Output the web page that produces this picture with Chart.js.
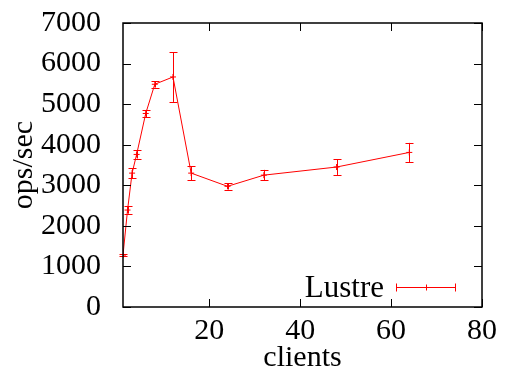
<!DOCTYPE html>
<html><head><meta charset="utf-8">
<script src="https://cdn.jsdelivr.net/npm/chart.js@4/dist/chart.umd.min.js"></script>
<style>html,body{margin:0;padding:0;background:#fff}#wrap{width:507px;height:376px}</style>
</head><body><div id="wrap"><canvas id="c" width="507" height="376"></canvas></div>
<script>
const clients = [1, 2, 3, 4, 6, 8, 12, 16, 24, 32, 48, 64];
const opsPerSec = [1280, 2390, 3300, 3760, 4770, 5490, 5670, 3300, 2975, 3250, 3450, 3810];
const opsError = [20, 90, 120, 100, 90, 80, 615, 175, 80, 130, 195, 235];
const xTicks = [20, 40, 60, 80];
const seriesName = 'Lustre';

const FONT = '"Liberation Serif", "Times New Roman", serif';
const RED = '#ff0000';

const framePlugin = {
  id: 'frame',
  afterDatasetsDraw(chart) {
    const ctx = chart.ctx, a = chart.chartArea;
    const xs = chart.scales.x, ys = chart.scales.y;
    ctx.save();
    // error bars
    ctx.strokeStyle = RED; ctx.lineWidth = 1;
    clients.forEach((c, i) => {
      const px = Math.round(xs.getPixelForValue(c)) + 0.5;
      const top = ys.getPixelForValue(opsPerSec[i] + opsError[i]);
      const bot = ys.getPixelForValue(opsPerSec[i] - opsError[i]);
      ctx.beginPath();
      ctx.moveTo(px, top); ctx.lineTo(px, bot);
      ctx.moveTo(px - 4, Math.round(top) + 0.5); ctx.lineTo(px + 4, Math.round(top) + 0.5);
      ctx.moveTo(px - 4, Math.round(bot) + 0.5); ctx.lineTo(px + 4, Math.round(bot) + 0.5);
      ctx.stroke();
    });
    // frame
    ctx.strokeStyle = '#000'; ctx.lineWidth = 1.5;
    ctx.strokeRect(a.left, a.top, a.right - a.left, a.bottom - a.top);
    // inward ticks
    ctx.lineWidth = 1;
    const tl = 8;
    ys.ticks.forEach(t => {
      const py = Math.round(ys.getPixelForValue(t.value)) + 0.5;
      ctx.beginPath();
      ctx.moveTo(a.left, py); ctx.lineTo(a.left + tl, py);
      ctx.moveTo(a.right, py); ctx.lineTo(a.right - tl, py);
      ctx.stroke();
    });
    xs.ticks.forEach(t => {
      const px = Math.round(xs.getPixelForValue(t.value)) + 0.5;
      ctx.beginPath();
      ctx.moveTo(px, a.bottom); ctx.lineTo(px, a.bottom - tl);
      ctx.moveTo(px, a.top); ctx.lineTo(px, a.top + tl);
      ctx.stroke();
    });
    // legend (key) inside bottom right
    const ly = a.bottom - 19.5;
    const lx1 = a.left + 273, lx2 = a.left + 333;
    ctx.fillStyle = '#000';
    ctx.font = '31px ' + FONT;
    ctx.textAlign = 'right'; ctx.textBaseline = 'middle';
    ctx.fillText(seriesName, lx1 - 12, ly + 1);
    ctx.strokeStyle = RED;
    ctx.beginPath();
    ctx.moveTo(lx1, ly); ctx.lineTo(lx2, ly);
    ctx.moveTo(lx1 + 0.5, ly - 4); ctx.lineTo(lx1 + 0.5, ly + 4);
    ctx.moveTo(lx2 - 0.5, ly - 4); ctx.lineTo(lx2 - 0.5, ly + 4);
    const mx = Math.round((lx1 + lx2) / 2) + 0.5;
    ctx.moveTo(mx, ly - 3); ctx.lineTo(mx, ly + 3);
    ctx.stroke();
    ctx.restore();
  }
};

new Chart(document.getElementById('c'), {
  type: 'line',
  data: {
    datasets: [{
      label: seriesName,
      data: clients.map((c, i) => ({ x: c, y: opsPerSec[i] })),
      borderColor: RED,
      backgroundColor: RED,
      borderWidth: 1,
      pointStyle: 'cross',
      pointRadius: 3,
      pointBorderWidth: 1,
      tension: 0
    }]
  },
  options: {
    responsive: false,
    animation: false,
    layout: { padding: { left: 6, right: 25, top: 23, bottom: 0 } },
    plugins: { legend: { display: false }, tooltip: { enabled: false } },
    scales: {
      x: {
        type: 'linear', min: 1, max: 80,
        afterBuildTicks: s => { s.ticks = xTicks.map(v => ({ value: v })); },
        afterFit: s => { s.height = 69; s.paddingLeft = 0; s.paddingRight = 0; },
        grid: { display: false },
        border: { display: false },
        ticks: { color: '#000', font: { family: FONT, size: 30 }, padding: -2, maxRotation: 0,
                 callback: v => String(v) },
        title: { display: true, text: 'clients', color: '#000', font: { family: FONT, size: 30 }, padding: { top: -3, bottom: 0 } }
      },
      y: {
        min: 0, max: 7000,
        afterFit: s => { s.width = 117; s.paddingTop = 0; s.paddingBottom = 0; },
        grid: { display: false },
        border: { display: false },
        ticks: { stepSize: 1000, color: '#000', font: { family: FONT, size: 30 }, padding: 14,
                 callback: v => String(v) },
        title: { display: true, text: 'ops/sec', color: '#000', font: { family: FONT, size: 30 }, padding: 0 }
      }
    }
  },
  plugins: [framePlugin]
});
</script>
</body></html>
